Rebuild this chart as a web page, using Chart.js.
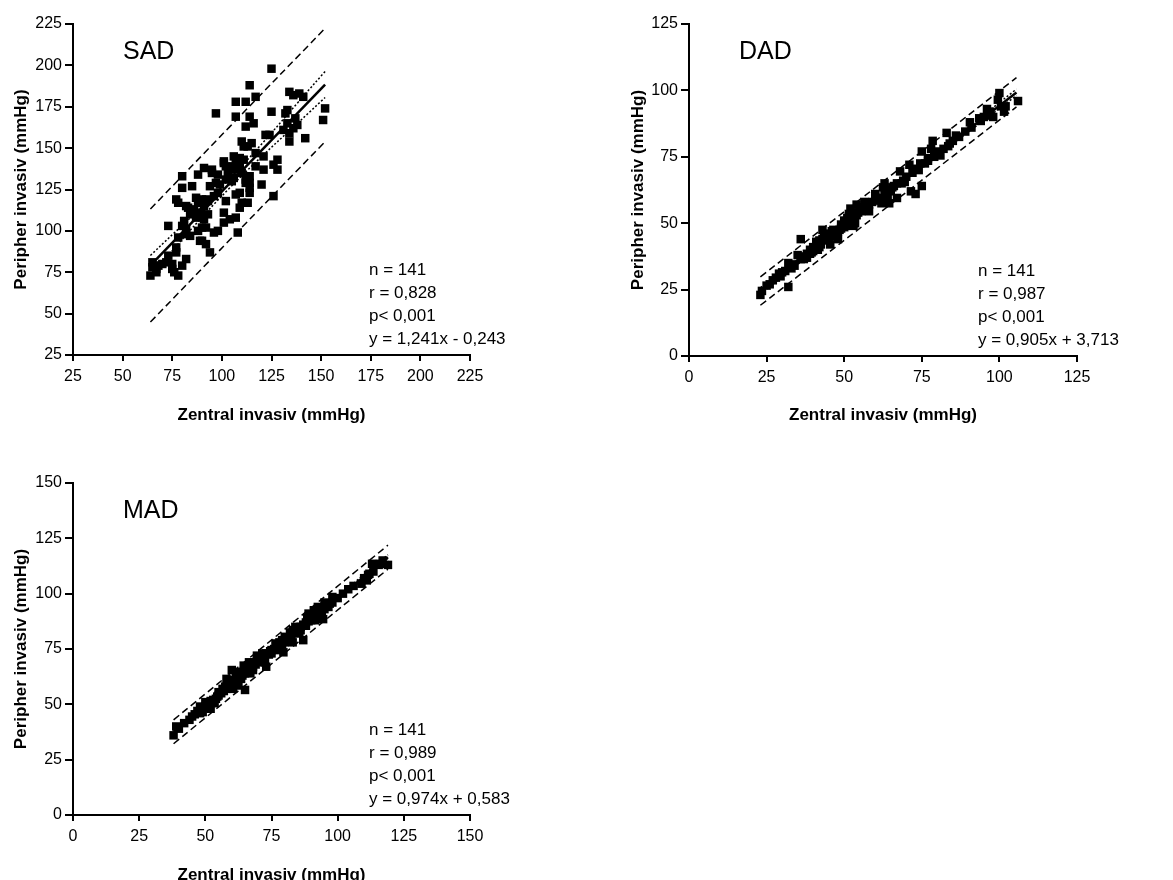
<!DOCTYPE html>
<html>
<head>
<meta charset="utf-8">
<script src="https://cdn.jsdelivr.net/npm/chart.js@4.4.1/dist/chart.umd.min.js"></script>
<style>
  html, body { margin: 0; padding: 0; background: #fff; overflow: hidden; }
  canvas { position: absolute; }
</style>
</head>
<body>
<canvas id="sad" width="560" height="430" style="left:0;top:0"></canvas>
<canvas id="dad" width="573" height="430" style="left:600px;top:0"></canvas>
<canvas id="mad" width="560" height="460" style="left:0;top:440px"></canvas>
<script>
// ---- SAD (systolisch) ----
const sadX = [125,114,112,107,117,97,107,114,112,116,125,134,136,139,141,132,133,151,152,142,138,137,136,134,134,128,128,126,121,121,
  120,126,122,124,115,110,111,113,117,111,109,107,109,110,112,114,114,114,114,113,110,109,109,106,105,103,101,102,98,97,
  95,91,88,80,80,85,77,78,82,87,88,90,92,93,91,86,84,89,87,93,91,81,80,82,73,88,90,92,96,98,
  89,90,92,94,84,82,78,77,77,82,73,72,70,68,66,65,67,75,75,76,80,78,64,67,65,101,102,101,104,107,
  108,107,102,99,98,96,113,112,105,109,106,94,117,85,83,90,95,106,101,131,133];
const sadY = [198,188,178,178,181,171,169,169,163,165,172,184,182,183,181,171,173,167,174,156,164,168,162,159,154,143,137,140,145,137,
  128,121,158,158,153,154,151,151,147,143,144,143,139,135,131,133,129,126,123,117,117,114,123,132,130,135,141,139,134,129,
  137,138,134,133,126,127,119,117,115,120,117,119,119,118,115,113,110,111,108,110,107,106,103,101,103,100,102,102,99,100,
  94,94,92,87,97,98,96,90,87,83,85,81,80,79,79,78,75,80,77,75,79,73,73,77,81,111,118,105,107,108,
  99,122,131,128,123,121,132,129,137,137,139,127,139,111,114,109,135,145,142,161,165];
const sadFit = [1.241, -0.243];          // slope, intercept
const sadLineX = [65, 152];
const sadBandX = [64, 104, 152];
const sadCiUp = [85.1, 131.6, 196.3];
const sadCiLo = [73.3, 126.0, 180.6];
const sadPiUp = [113.2, 163.0, 222.4];
const sadPiLo = [44.9, 94.6, 153.9];
const sadStats = ['n = 141', 'r = 0,828', 'p< 0,001', 'y = 1,241x - 0,243'];
const sadTicks = [25, 225];

// ---- DAD (diastolisch) ----
const dadX = [23,23.5,32,29,30,32,35,36,37,38,39,40,41,42,41.5,43,43.5,44,45.5,45,46.5,47.5,48,48.5,50,51,50,51.5,52,53,
  53.5,54,54.5,55.5,56.5,58,60,60.5,62,62.5,63,62,64.5,64.5,65.5,67,68,68.5,69.5,71,71.5,73,74,74.5,75,75,77,78,78.5,79,
  80,81,83,83.5,84,86,90.5,93.5,96,97,98,100,100.5,101.5,106,99.5,
  25,26,27,28,29.5,31,33,33.5,34,36,37,38,39,39.5,40,40.5,41,42,42.5,43,44,44.5,45,46,47,47,48,49,49,50,
  50.5,51,52,52.5,53,53,54,55,55.5,56,57,58,59,60,63,64,65,66,67,69,70,72,73,76,77,79,82,85,87,89,
  91,94,95,97,102];
const dadY = [23,24.5,26,31,31.5,35,38,44,36.5,38.5,40,41,42,41,40,47.5,45.5,43.5,42,46,47.5,46,44,47.5,48.5,50.5,51,53.5,55.5,52.5,
  50,57,54,56,58,54.5,61,58.5,59.5,63.5,65,57.5,57.5,62.5,63.5,59.5,69.5,65,65.5,72,62,61,70,72.5,77,64,73.5,78,81,75,
  77,75.5,84,79,80,83,88,89.5,93,90.5,90,99,94,92,96,96.5,
  26.5,27,28.5,29.5,30,32,33,34.5,34,36.5,37.5,37,38.5,39,39.5,40.5,43,43.5,42,44,44.5,46,44,47,46.5,45,47,48,49.5,50,
  49,52,50.5,51.5,54,49,53,55,54.5,55.5,56.5,57,58,60,61,60,62,64,65,66,67.5,69,70.5,72.5,74.5,76.5,78,81,82.5,84.5,
  86,88.5,90,92,94];
const dadFit = [0.905, 3.713];
const dadLineX = [23, 105.5];
const dadBandX = [23, 62, 105.5];
const dadCiUp = [25.7, 60.3, 100.5];
const dadCiLo = [23.3, 59.3, 98.1];
const dadPiUp = [29.8, 65.2, 104.8];
const dadPiLo = [19.1, 54.4, 93.8];
const dadStats = ['n = 141', 'r = 0,987', 'p< 0,001', 'y = 0,905x + 3,713'];
const dadTicks = [0, 125];

// ---- MAD (mittlerer) ----
const madX = [38,39,48,49,52,53.5,54.5,57.5,58,60,60.5,62,62.5,64,65,64.5,66.5,67,68,69.5,71.5,72.5,73,75,76.5,78,79.5,79,82,83,
  84,86,87,88,89,91,91.5,92.5,94.5,95,96.5,98,102,109,111,111.5,113,113.5,115.5,117,119,
  40,42,44,46,47,48,49,50,50,51,52,53,54,55,55,56,56.5,57,58,58.5,59,59,60,60.5,61,61.5,62,62.5,63,63,
  63.5,64,64.5,65,65.5,66,66,67,67.5,68,68.5,69,69.5,70,70,71,71.5,72,72.5,73,74,74.5,75,76,77,77,78,79,80,80,
  81,82,82.5,83,84,85,85.5,86,87,88,88.5,89,90,90,91,92,93,93.5,94,95,96,97,98,100,104,106,110,112,116,45];
const madY = [36,40,49,46.5,48,50.5,53.5,58,61.5,65.5,57,58.5,62.5,64,56.5,67.5,69,64,65.5,72,73,69,67,74.5,77.5,76,73.5,79,82.5,78,
  85,83.5,79,85.5,91,92.5,88,94,88.5,96,94,98.5,100,104.5,106,108.5,113.5,110,113,115,113,
  39,41.5,43,45.5,47,46,48.5,49,51,50,51.5,52,52.5,54,55.5,55,57,56,57,59,58,60,59.5,61,60,62,61,60,62.5,64.5,
  61.5,63,65,64,66,65,67,66,68,67,69,68,70,69,71.5,70,71.5,72,70.5,73,72.5,74,73,75,76,74.5,78,77,78,80.5,
  79.5,80,81,83.5,82,84.5,82.5,85,86,87,89,87.5,88,90.5,89.5,90,91.5,93,92,93,95,95.5,96,98,102,103.5,107,109,113.5,44.5];
const madFit = [0.974, 0.583];
const madLineX = [38, 119];
const madBandX = [38, 78, 119];
const madCiUp = [38.7, 77.0, 117.6];
const madCiLo = [36.5, 76.2, 115.4];
const madPiUp = [43.0, 82.0, 121.9];
const madPiLo = [32.2, 71.2, 111.1];
const madStats = ['n = 141', 'r = 0,989', 'p< 0,001', 'y = 0,974x + 0,583'];
const madTicks = [0, 150];

const FONT = "'Liberation Sans', Arial, sans-serif";
Chart.defaults.font.family = FONT;
Chart.defaults.color = '#000';

const notesPlugin = {
  id: 'notes',
  afterDraw(chart, args, o) {
    const ctx = chart.ctx, a = chart.chartArea;
    ctx.save();
    ctx.fillStyle = '#000';
    ctx.textBaseline = 'middle';
    ctx.textAlign = 'left';
    ctx.font = '25px ' + FONT;
    ctx.fillText(o.label, a.left + 50, a.top + 28);
    ctx.font = '17px ' + FONT;
    o.stats.forEach((t, i) => ctx.fillText(t, a.left + o.statsDx, a.bottom - 85 + i * 23));
    ctx.restore();
  }
};

function pts(xs, ys) { return xs.map((x, i) => ({ x: x, y: ys[i] })); }

function makeChart(id, g) {
  const lineData = g.lineX.map(x => ({ x: x, y: g.fit[0] * x + g.fit[1] }));
  const band = (ys, dash, w) => ({
    type: 'line', data: pts(g.bandX, ys), borderColor: '#000', borderWidth: w,
    borderDash: dash, pointRadius: 0, tension: 0.4, fill: false
  });
  new Chart(document.getElementById(id), {
    type: 'scatter',
    data: {
      datasets: [
        { data: pts(g.x, g.y), pointStyle: 'rect', pointRadius: 6, backgroundColor: '#000',
          borderColor: '#000', borderWidth: 0 },
        band(g.piUp, [7, 4], 1.5),
        band(g.piLo, [7, 4], 1.5),
        band(g.ciUp, [2, 2], 1.5),
        band(g.ciLo, [2, 2], 1.5),
        { type: 'line', data: lineData, borderColor: '#000', borderWidth: 2.5, pointRadius: 0 }
      ]
    },
    options: {
      responsive: false,
      animation: false,
      events: [],
      layout: { padding: { left: 0, top: g.padTop, right: g.padRight, bottom: 0 } },
      plugins: {
        legend: { display: false },
        tooltip: { enabled: false },
        notes: { label: g.label, stats: g.stats, statsDx: g.statsDx }
      },
      scales: {
        x: {
          type: 'linear', min: g.ticks[0], max: g.ticks[1],
          ticks: { stepSize: 25, padding: 6, font: { size: 16 }, color: '#000', maxRotation: 0 },
          grid: { drawOnChartArea: false, drawTicks: true, tickLength: 6, color: '#000', lineWidth: 2 },
          border: { color: '#000', width: 2 },
          title: { display: true, text: 'Zentral invasiv (mmHg)', color: '#000',
            font: { size: 17, weight: 'bold' }, padding: { top: 0, bottom: g.xTitlePad } },
          afterFit: s => { s.height = g.xAxisH; }
        },
        y: {
          type: 'linear', min: g.ticks[0], max: g.ticks[1],
          ticks: { stepSize: 25, padding: 3, font: { size: 16 }, color: '#000' },
          grid: { drawOnChartArea: false, drawTicks: true, tickLength: 8, color: '#000', lineWidth: 2 },
          border: { color: '#000', width: 2 },
          title: { display: true, text: 'Peripher invasiv (mmHg)', color: '#000',
            font: { size: 17, weight: 'bold' }, padding: { top: g.yTitlePad, bottom: 0 } },
          afterFit: s => { s.width = g.yAxisW; }
        }
      }
    },
    plugins: [notesPlugin]
  });
}

makeChart('sad', { x: sadX, y: sadY, fit: sadFit, lineX: sadLineX, bandX: sadBandX,
  ciUp: sadCiUp, ciLo: sadCiLo, piUp: sadPiUp, piLo: sadPiLo, ticks: sadTicks,
  label: 'SAD', stats: sadStats, statsDx: 296,
  padTop: 24, padRight: 90, yAxisW: 73, xAxisH: 75, xTitlePad: 4.8, yTitlePad: 10.8 });

makeChart('dad', { x: dadX, y: dadY, fit: dadFit, lineX: dadLineX, bandX: dadBandX,
  ciUp: dadCiUp, ciLo: dadCiLo, piUp: dadPiUp, piLo: dadPiLo, ticks: dadTicks,
  label: 'DAD', stats: dadStats, statsDx: 289,
  padTop: 24, padRight: 96, yAxisW: 89, xAxisH: 74, xTitlePad: 4.8, yTitlePad: 27.8 });

makeChart('mad', { x: madX, y: madY, fit: madFit, lineX: madLineX, bandX: madBandX,
  ciUp: madCiUp, ciLo: madCiLo, piUp: madPiUp, piLo: madPiLo, ticks: madTicks,
  label: 'MAD', stats: madStats, statsDx: 296,
  padTop: 43, padRight: 90, yAxisW: 73, xAxisH: 85, xTitlePad: 14.8, yTitlePad: 10.8 });
</script>
</body>
</html>
